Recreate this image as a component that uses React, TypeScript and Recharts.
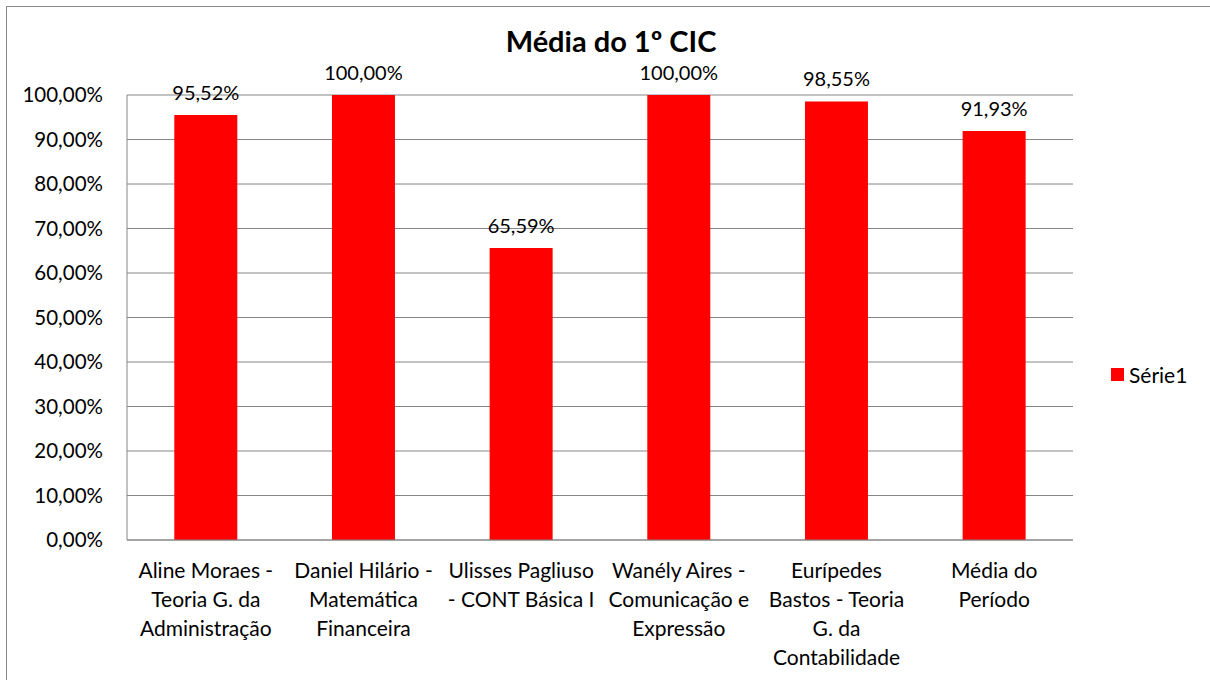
import React from 'react';
import { BarChart, Bar, XAxis, YAxis, CartesianGrid, LabelList } from 'recharts';

// Categories (line breaks as they wrap under the axis)
const categories = [
  'Aline Moraes -\nTeoria G. da\nAdministração',
  'Daniel Hilário -\nMatemática\nFinanceira',
  'Ulisses Pagliuso\n- CONT Básica I',
  'Wanély Aires -\nComunicação e\nExpressão',
  'Eurípedes\nBastos - Teoria\nG. da\nContabilidade',
  'Média do\nPeríodo',
];
const serie1 = [0.9552, 1.0, 0.6559, 1.0, 0.9855, 0.9193];
const yTicks = [0, 0.1, 0.2, 0.3, 0.4, 0.5, 0.6, 0.7, 0.8, 0.9, 1.0];

const title = 'Média do 1º CIC';
const seriesName = 'Série1';

const data = categories.map((name, i) => ({ name, value: serie1[i] }));

const FONT = 'Lato, "Open Sans", sans-serif';
const GRID = '#868686';
const RED = '#FF0000';

const pct = (v: number) => (v * 100).toFixed(2).replace('.', ',') + '%';

const CategoryTick = (props: any) => {
  const { x, y, payload } = props;
  const lines = String(payload.value).split('\n');
  return (
    <text x={x} y={y} textAnchor="middle" fontFamily={FONT} fontSize={21} fill="#000">
      {lines.map((ln, i) => (
        <tspan key={i} x={x} y={y + 30 + i * 29}>
          {ln}
        </tspan>
      ))}
    </text>
  );
};

const App: React.FC = () => {
  return (
    <div style={{ position: 'absolute', left: 0, top: 0, width: 1210, height: 680, overflow: 'hidden', background: '#fff' }}>
      <div
        style={{
          position: 'absolute',
          left: 6,
          top: 6,
          width: 2000,
          height: 2000,
          border: '1px solid #898989',
          boxSizing: 'border-box',
        }}
      />
      <div
        style={{
          position: 'absolute',
          left: 0,
          top: 29,
          width: 1222,
          textAlign: 'center',
          fontFamily: FONT,
          fontWeight: 'bold',
          fontSize: 29,
          lineHeight: '24px',
          color: '#000',
        }}
      >
        {title}
      </div>
      <div style={{ position: 'absolute', left: 0, top: 0 }}>
        <BarChart
          width={1210}
          height={680}
          data={data}
          margin={{ top: 95, right: 137, bottom: 0, left: 0 }}
          barCategoryGap="30%"
        >
          <CartesianGrid vertical={false} stroke={GRID} />
          <XAxis
            dataKey="name"
            interval={0}
            height={140}
            tickLine={false}
            axisLine={{ stroke: GRID }}
            tick={<CategoryTick />}
          />
          <YAxis
            width={127}
            domain={[0, 1]}
            ticks={yTicks}
            tickFormatter={pct}
            tickLine={false}
            tickSize={0}
            tickMargin={24}
            axisLine={{ stroke: GRID }}
            tick={{ fontFamily: FONT, fontSize: 20.5, fill: '#000' }}
          />
          <Bar dataKey="value" fill={RED} isAnimationActive={false}>
            <LabelList
              dataKey="value"
              position="top"
              offset={15}
              formatter={(v: any) => pct(Number(v))}
              style={{ fontFamily: FONT, fontSize: 20, fill: '#000' }}
            />
          </Bar>
        </BarChart>
      </div>
      <div
        style={{
          position: 'absolute',
          left: 1111,
          top: 362,
          display: 'flex',
          alignItems: 'center',
          fontFamily: FONT,
          fontSize: 21,
          color: '#000',
        }}
      >
        <span style={{ display: 'inline-block', width: 13, height: 13, background: RED, marginRight: 5 }} />
        <span>{seriesName}</span>
      </div>
    </div>
  );
};

export default App;
